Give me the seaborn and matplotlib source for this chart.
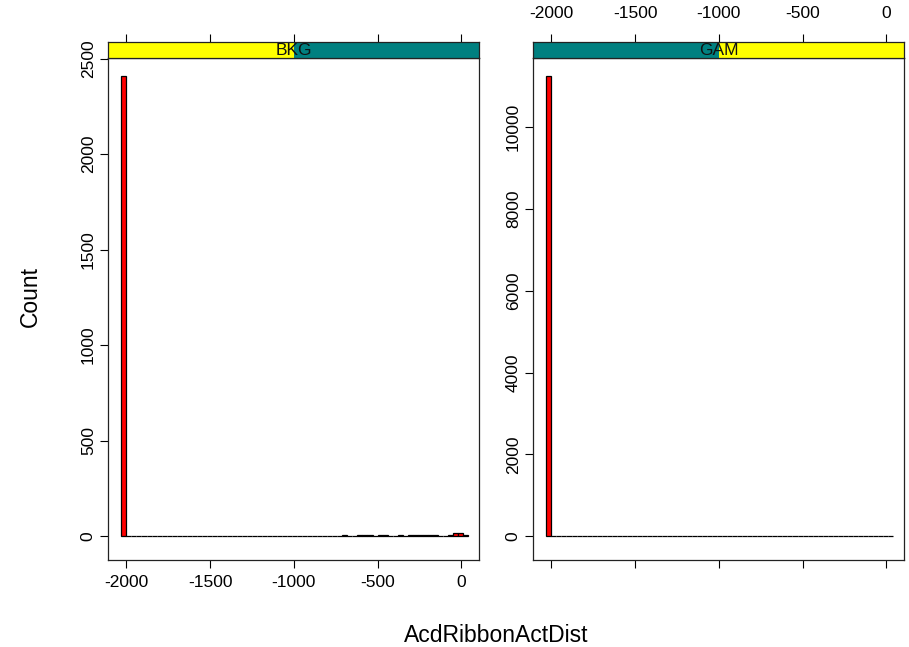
import numpy as np
import pandas as pd
import matplotlib
matplotlib.use("Agg")
import matplotlib.pyplot as plt
import seaborn as sns

# ---------------- data ----------------
panels = ["BKG", "GAM"]
bin_edges = list(range(-2030, 41, 30))          # histogram breaks
bkg_bin_left = [-2030, -710, -620, -590, -560, -500, -470, -380, -320, -290,
                -260, -230, -200, -170, -80, -50, -20, 10]
bkg_counts = [2410, 6, 6, 7, 6, 5, 7, 6, 6, 7, 6, 7, 6, 6, 8, 14, 18, 6]
gam_bin_left = [-2030]
gam_counts = [11250]
x_ticks = [-2000, -1500, -1000, -500, 0]
bkg_y_ticks = [0, 500, 1000, 1500, 2000, 2500]
gam_y_ticks = [0, 2000, 4000, 6000, 8000, 10000]
x_label = "AcdRibbonActDist"
y_label = "Count"
x_limits = (-2110, 106)
bkg_y_limits = (-125, 2503)
gam_y_limits = (-580, 11690)

# ---------------- style ----------------
sns.set_theme(style="white")
plt.rcParams["font.family"] = ["Liberation Sans", "DejaVu Sans"]

W, H = 909, 647
fig = plt.figure(figsize=(W / 100, H / 100), dpi=100)
fig.patch.set_facecolor("white")


def rect(x0, y0, x1, y1):
    return [x0 / W, 1 - y1 / H, (x1 - x0) / W, (y1 - y0) / H]


def panel_frame(bin_left, counts):
    full = dict(zip(bin_left, counts))
    lefts = bin_edges[:-1]
    centers = [e + 15 for e in lefts]
    weights = [full.get(e, 0) for e in lefts]
    return pd.DataFrame({"x": centers, "w": weights})


TICK_FS = 12.5
tick_len = 5.76
tick_w = 0.8
PANEL_TOP, PANEL_BOTTOM = 58, 560

layout = [
    ("BKG", (108, 479), bkg_bin_left, bkg_counts, bkg_y_ticks, bkg_y_limits,
     True, ["#FFFF00", "#008080"]),
    ("GAM", (533, 904), gam_bin_left, gam_counts, gam_y_ticks, gam_y_limits,
     False, ["#008080", "#FFFF00"]),
]

for name, (xl, xr), bl, cts, yt, ylim, is_left, strip_cols in layout:
    df = panel_frame(bl, cts)
    ax = fig.add_axes(rect(xl, PANEL_TOP, xr, PANEL_BOTTOM))
    sns.histplot(data=df, x="x", weights="w", bins=bin_edges, ax=ax,
                 color="#FF0000", edgecolor="black", linewidth=0.9,
                 alpha=1.0, stat="count")
    ax.set_xlim(*x_limits)
    ax.set_ylim(*ylim)
    ax.set_xlabel("")
    ax.set_ylabel("")
    ax.set_facecolor("white")
    for sp in ax.spines.values():
        sp.set_visible(True)
        sp.set_color("#222222")
        sp.set_linewidth(0.9)
    ax.set_xticks(x_ticks)
    ax.set_xticklabels([str(v) for v in x_ticks])
    ax.tick_params(axis="x", bottom=True, top=False, labelbottom=is_left,
                   labeltop=False, direction="out", length=tick_len,
                   width=tick_w, pad=5, labelsize=TICK_FS, colors="black")
    ax.set_yticks(yt)
    ax.set_yticklabels([str(v) for v in yt], rotation=90, va="center")
    ax.tick_params(axis="y", left=True, right=False, direction="out",
                   length=tick_len, width=tick_w, pad=3,
                   labelsize=TICK_FS, colors="black")

    # strip
    sax = fig.add_axes(rect(xl, 42, xr, PANEL_TOP))
    sax.set_xlim(*x_limits)
    sax.set_ylim(0, 1)
    mid = (x_limits[0] + x_limits[1]) / 2
    sax.axvspan(x_limits[0], mid, color=strip_cols[0], lw=0)
    sax.axvspan(mid, x_limits[1], color=strip_cols[1], lw=0)
    sax.text(mid, 0.45, name, ha="center", va="center",
             fontsize=TICK_FS, color="#111111")
    for sp in sax.spines.values():
        sp.set_visible(True)
        sp.set_color("#222222")
        sp.set_linewidth(0.9)
    sax.set_yticks([])
    sax.set_xticks(x_ticks)
    sax.set_xticklabels([str(v) for v in x_ticks])
    sax.tick_params(axis="x", bottom=False, top=True, labelbottom=False,
                    labeltop=not is_left, direction="out", length=tick_len,
                    width=tick_w, pad=9, labelsize=TICK_FS, colors="black")

fig.text(496 / W, 1 - 642 / H, x_label, ha="center", va="baseline",
         fontsize=16.5, color="black")
fig.text(37 / W, 1 - 297 / H, y_label, ha="center", va="baseline",
         rotation=90, rotation_mode="anchor", fontsize=16.5, color="black")

fig.savefig("out.png", dpi=100, facecolor="white")
